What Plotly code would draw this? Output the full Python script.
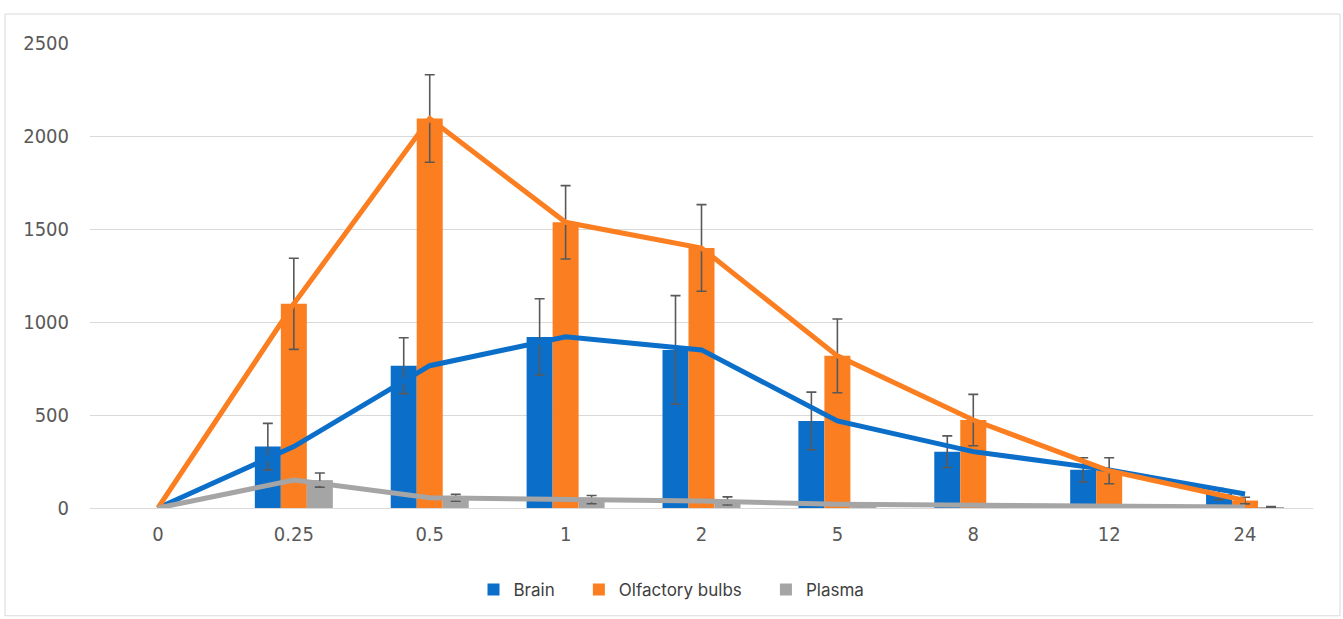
import plotly.graph_objects as go

times = ["0", "0.25", "0.5", "1", "2", "5", "8", "12", "24"]
brain = [0, 330, 765, 920, 850, 468, 303, 205, 75]
brain_err = [0, 125, 150, 205, 292, 155, 85, 65, 30]
olf = [0, 1098, 2094, 1536, 1398, 818, 473, 200, 40]
olf_err = [0, 245, 235, 197, 233, 198, 138, 70, 18]
plasma = [0, 150, 55, 45, 38, 20, 15, 10, 5]
plasma_err = [0, 38, 18, 22, 22, 8, 6, 5, 3]

names = ["Brain", "Olfactory bulbs", "Plasma"]
colors = ["#0B6FC9", "#FB7E21", "#A5A5A5"]
series = [brain, olf, plasma]
errs = [brain_err, olf_err, plasma_err]

NB = "\u00a0" * 4  # extra spacing between legend entries

fig = go.Figure()
for i, (n, c, s, e) in enumerate(zip(names, colors, series, errs)):
    label = n + (NB if i < len(names) - 1 else "")
    # zero-valued bars are left empty so no zero-length error caps are drawn
    fig.add_trace(go.Bar(
        x=times, y=[v if v else None for v in s], name=label,
        marker=dict(color=c, line=dict(width=0)),
        error_y=dict(type="data", array=e, visible=True, color="#595959",
                     thickness=1.6, width=5),
    ))
for n, c, s in zip(names, colors, series):
    fig.add_trace(go.Scatter(
        x=times, y=s, mode="lines", name=n, showlegend=False,
        line=dict(color=c, width=5), hoverinfo="skip",
    ))

W, H = 1343, 619
L, R, T, B = 90, 30, 43, 110
pw, ph = W - L - R, H - T - B

def px(x):
    return (x - L) / pw

def py(y):
    return (H - B - y) / ph

fig.update_layout(
    width=W, height=H,
    margin=dict(l=L, r=R, t=T, b=B, pad=0),
    paper_bgcolor="white", plot_bgcolor="white",
    barmode="group", bargap=0.426, bargroupgap=0,
    font=dict(family="Liberation Sans Narrow, DejaVu Sans Condensed, Arial", color="#595959", size=20),
    xaxis=dict(type="category", showgrid=False, showline=True, linecolor="#D9D9D9",
               linewidth=1, ticks="", tickfont=dict(size=20, color="#595959"),
               ticklabelstandoff=8, range=[-0.5, 8.5]),
    yaxis=dict(range=[0, 2500], dtick=500, showgrid=True, gridcolor="#D9D9D9",
               gridwidth=1, zeroline=False, showline=False, ticks="",
               tickfont=dict(size=20, color="#595959"), ticklabelstandoff=20),
    legend=dict(orientation="h", x=px(671.5), xanchor="center", y=py(590), yanchor="middle",
                font=dict(family="Inter, Noto Sans, sans-serif", size=17, color="#404040"),
                itemwidth=30, tracegroupgap=0, traceorder="normal"),
    shapes=[dict(type="rect", xref="paper", yref="paper",
                 x0=px(5), x1=px(1340), y0=py(617), y1=py(14),
                 line=dict(color="#D9D9D9", width=1), fillcolor="rgba(0,0,0,0)", layer="below")],
)

fig.write_html("out.html", config={"displayModeBar": False},
               post_script="document.body.style.margin='0px';")
